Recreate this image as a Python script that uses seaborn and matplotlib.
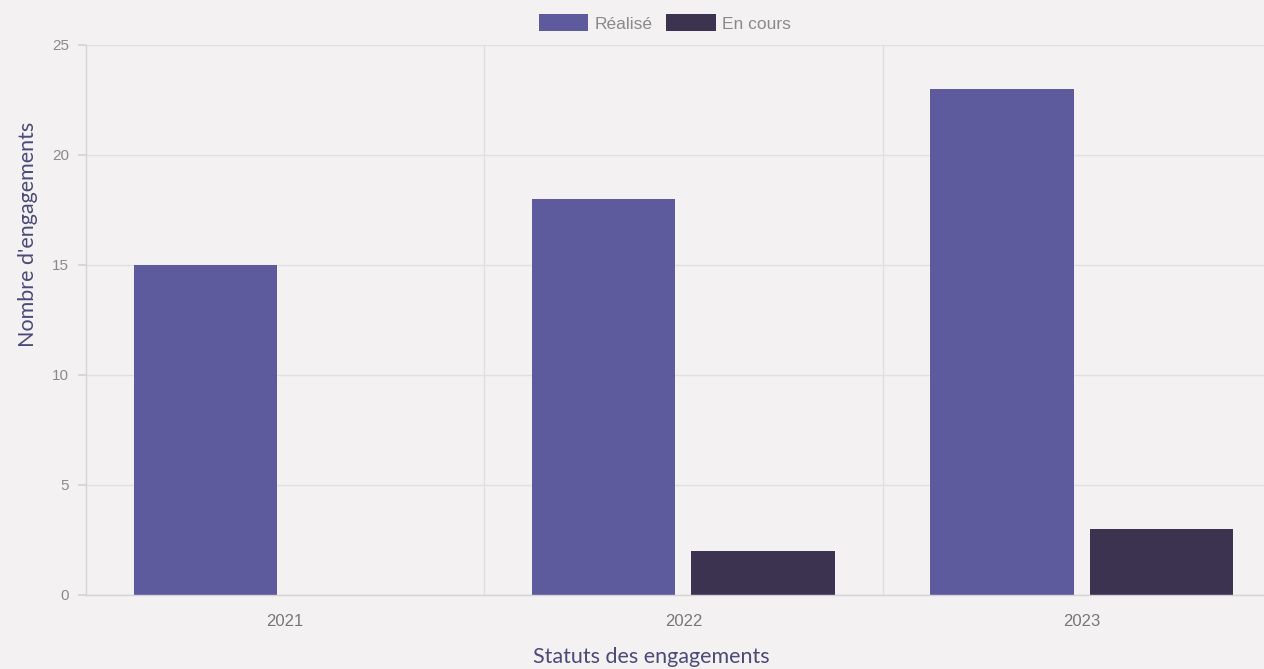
import matplotlib
matplotlib.use("Agg")
import matplotlib.pyplot as plt
import seaborn as sns
import pandas as pd

years = ["2021", "2022", "2023"]
realise = [15, 18, 23]
en_cours = [0, 2, 3]
series = ["Réalisé", "En cours"]
colors = ["#5d5b9e", "#3b3350"]

df = pd.DataFrame({
    "year": years * 2,
    "value": realise + en_cours,
    "status": [series[0]] * 3 + [series[1]] * 3,
})

sns.set_theme(style="white")
plt.rcParams["font.family"] = ["Liberation Sans", "DejaVu Sans"]

bg = "#f4f1f2"
fig = plt.figure(figsize=(12.64, 6.69), dpi=100, facecolor=bg)
ax = fig.add_axes([86 / 1264, 1 - 595 / 669, 1 - 86 / 1264, (595 - 45) / 669])
ax.set_facecolor(bg)

sns.barplot(data=df, x="year", y="value", hue="status", palette=colors,
            width=0.8, gap=0.1, ax=ax, legend=True, saturation=1, linewidth=0)

ax.set_ylim(0, 25)
ax.set_yticks([0, 5, 10, 15, 20, 25])
ax.set_xlim(-0.5, -0.5 + (1264 - 86) / 398.3)

ax.grid(axis="y", color="#e2dfe1", linewidth=1)
for xv in [0.5, 1.5]:
    ax.axvline(xv, color="#e2dfe1", linewidth=1, zorder=0)
ax.set_axisbelow(True)

for s in ["top", "right"]:
    ax.spines[s].set_visible(False)
for s in ["left", "bottom"]:
    ax.spines[s].set_color("#d6d3d5")
    ax.spines[s].set_linewidth(1)

ax.tick_params(axis="y", length=6, color="#d6d3d5", labelcolor="#8a8a8a", labelsize=11, pad=6, left=True)
ax.tick_params(axis="x", length=0, labelcolor="#777777", labelsize=12, pad=14)

title_font = dict(family=["Lato", "DejaVu Sans"], color="#4b4a78", fontsize=15.5)
ax.set_ylabel("Nombre d'engagements", **title_font)
ax.set_xlabel("Statuts des engagements", **title_font)
ax.yaxis.set_label_coords((38 - 86) / 1178, (595 - 234) / 550)
ax.xaxis.set_label_coords((651 - 86) / 1178, (595 - 647) / 550)

leg = ax.legend(loc="center", bbox_to_anchor=((665 - 86) / 1178, 1 + 22 / 550), ncol=2, frameon=False,
                fontsize=12.5, handlelength=2.85, handleheight=1.1, handletextpad=0.4,
                columnspacing=0.75, labelcolor="#8a8a8a")

fig.savefig("out.png", dpi=100, facecolor=bg)
